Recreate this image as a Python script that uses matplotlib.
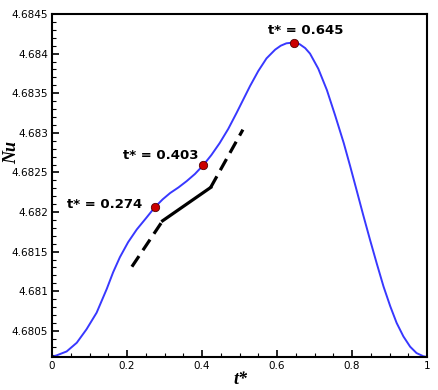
import matplotlib.pyplot as plt
from matplotlib.ticker import MultipleLocator, FuncFormatter

# Nu(t*)
t_star = [0.0, 0.012, 0.039, 0.066, 0.092, 0.119, 0.146, 0.163, 0.181, 0.203, 0.226,
          0.252, 0.274, 0.295, 0.315, 0.337, 0.359, 0.381, 0.403, 0.425, 0.447, 0.470,
          0.492, 0.510, 0.528, 0.550, 0.572, 0.595, 0.610, 0.625, 0.645, 0.660, 0.675,
          0.688, 0.710, 0.733, 0.755, 0.778, 0.795, 0.812, 0.830, 0.848, 0.866, 0.884,
          0.902, 0.919, 0.937, 0.955, 0.972, 0.990, 1.0]
nu = [4.68017, 4.68019, 4.68024, 4.68035, 4.68052, 4.68073, 4.68103, 4.68124, 4.68143,
      4.68162, 4.68178, 4.68193, 4.68206, 4.68216, 4.68224, 4.68231, 4.68239, 4.68248,
      4.68259, 4.68272, 4.68287, 4.68305, 4.68325, 4.68342, 4.68359, 4.68378, 4.68394,
      4.68405, 4.68410, 4.68413, 4.68414, 4.68412, 4.68407, 4.68400, 4.68381, 4.68354,
      4.68322, 4.68287, 4.68258, 4.68228, 4.68196, 4.68165, 4.68135, 4.68106, 4.68081,
      4.68060, 4.68043, 4.68030, 4.68022, 4.68018, 4.68017]

# marked instants
mark_t = [0.274, 0.403, 0.645]
mark_nu = [4.68206, 4.68260, 4.68414]
mark_labels = ["t* = 0.274", "t* = 0.403", "t* = 0.645"]

# black guide line (dashed - solid - dashed)
guide_t = [0.213, 0.295, 0.423, 0.509]
guide_nu = [4.68131, 4.68189, 4.68231, 4.68304]

fig = plt.figure(figsize=(4.39, 3.9), dpi=100)
ax = fig.add_axes([0.1185, 0.0846, 0.8542, 0.8795])

ax.plot(t_star, nu, color='#3838ff', lw=1.4)
ax.plot(guide_t[:2], guide_nu[:2], color='black', lw=2.3, dashes=(4, 2.2))
ax.plot(guide_t[1:3], guide_nu[1:3], color='black', lw=2.3)
ax.plot(guide_t[2:], guide_nu[2:], color='black', lw=2.3, dashes=(4, 2.2))
ax.plot(mark_t, mark_nu, 'o', color='#cc0000', mec='#550000', mew=0.6, ms=6, zorder=5)

ax.text(0.240, 4.68210, mark_labels[0], fontsize=9.5, fontweight='bold', ha='right', va='center')
ax.text(0.291, 4.68272, mark_labels[1], fontsize=9.5, fontweight='bold', ha='center', va='center')
ax.text(0.676, 4.68429, mark_labels[2], fontsize=9.5, fontweight='bold', ha='center', va='center')

ax.set_xlim(0, 1)
ax.set_ylim(4.68017, 4.6845)
ax.xaxis.set_major_locator(MultipleLocator(0.2))
ax.xaxis.set_minor_locator(MultipleLocator(0.05))
ax.yaxis.set_major_locator(MultipleLocator(0.0005))
ax.yaxis.set_minor_locator(MultipleLocator(0.0001))
ax.xaxis.set_major_formatter(FuncFormatter(lambda v, p: '%g' % round(v, 4)))
ax.yaxis.set_major_formatter(FuncFormatter(lambda v, p: '%g' % round(v, 5)))

ax.tick_params(which='both', direction='in', top=False, right=False, labelsize=7.5, pad=3)
ax.tick_params(which='major', length=5, width=1.2)
ax.tick_params(which='minor', length=3, width=0.8)
for s in ax.spines.values():
    s.set_linewidth(1.5)

fig.text(240 / 439, 0.028, 't*', fontsize=13, fontweight='bold', fontstyle='italic',
         family='Liberation Serif', ha='center', va='center')
fig.text(12 / 439, 0.608, 'Nu', fontsize=13, fontweight='bold', fontstyle='italic',
         family='Liberation Serif', ha='center', va='center', rotation=90)

fig.savefig('out.png', dpi=100)
